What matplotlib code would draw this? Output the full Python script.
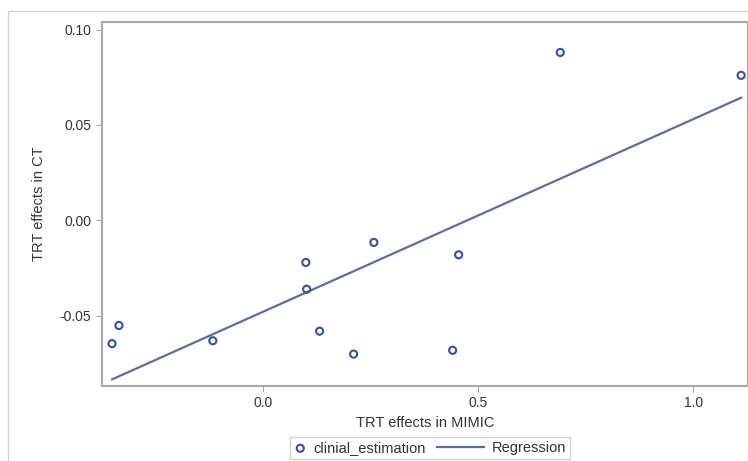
import numpy as np
import matplotlib
matplotlib.use("Agg")
import matplotlib.pyplot as plt
from matplotlib.patches import Rectangle
from matplotlib.legend_handler import HandlerLine2D

plt.rcParams['font.family'] = ['Liberation Sans', 'DejaVu Sans']

# treatment effects
mimic_effects = [-0.350, -0.334, -0.116, 0.100, 0.102, 0.132, 0.211, 0.258, 0.441, 0.455, 0.691, 1.111]
ct_effects = [-0.0645, -0.055, -0.063, -0.022, -0.036, -0.058, -0.070, -0.0115, -0.068, -0.018, 0.088, 0.076]
x_ticks = [0.0, 0.5, 1.0]
y_ticks = [-0.05, 0.00, 0.05, 0.10]

point_color = '#3550a0'
line_color = '#5b6ea0'
spine_color = '#a8a8a8'


class LongLineHandler(HandlerLine2D):
    """Line handle that reaches further left than the (short) handle box."""

    def get_xdata(self, legend, xdescent, ydescent, width, height, fontsize):
        xdata = np.array([-xdescent - 2.4 * fontsize, -xdescent + width])
        return xdata, xdata


fig = plt.figure(figsize=(7.48, 4.61), dpi=100)

# light outer frame
fig.patches.append(Rectangle((8 / 748, -0.05), 1.0, 1 - 11 / 461 + 0.05,
                             transform=fig.transFigure, fill=False,
                             edgecolor='#d4d4d4', linewidth=1.0))

ax = fig.add_axes([0.136, 0.1627, 0.864, 0.789])

ax.scatter(mimic_effects, ct_effects, s=26, facecolors='none',
           edgecolors=point_color, linewidths=1.5, zorder=3,
           label='clinial_estimation')

# least squares fit
slope, intercept = np.polyfit(mimic_effects, ct_effects, 1)
x_fit = np.array([min(mimic_effects), max(mimic_effects)])
reg_line, = ax.plot(x_fit, slope * x_fit + intercept, color=line_color,
                    linewidth=1.6, label='Regression')

ax.set_xlim(-0.374, 1.127)
ax.set_ylim(-0.0867, 0.1038)
ax.set_xticks(x_ticks)
ax.set_yticks(y_ticks)
ax.set_xticklabels(['%.1f' % v for v in x_ticks])
ax.set_yticklabels(['%.2f' % v for v in y_ticks])

for side in ['left', 'bottom', 'top', 'right']:
    ax.spines[side].set_color(spine_color)
    ax.spines[side].set_linewidth(1.5)

ax.tick_params(colors=spine_color, labelcolor='#333333', labelsize=10,
               length=4, width=0.8)

ax.set_xlabel('TRT effects in MIMIC', fontsize=10.5, color='#333333', labelpad=4)
ax.set_ylabel('TRT effects in CT', fontsize=10.5, color='#333333', labelpad=10)

leg = fig.legend(loc='center', bbox_to_anchor=(0.575, 0.028), ncol=2,
                 fontsize=10.5, frameon=True, fancybox=False,
                 handlelength=0.8, columnspacing=3.2, borderpad=0.3,
                 handletextpad=0.5, handler_map={reg_line: LongLineHandler()})
leg.get_frame().set_edgecolor('#c8c8c8')
leg.get_frame().set_linewidth(1.0)
for t in leg.get_texts():
    t.set_color('#333333')

fig.savefig('out.png', dpi=100)
